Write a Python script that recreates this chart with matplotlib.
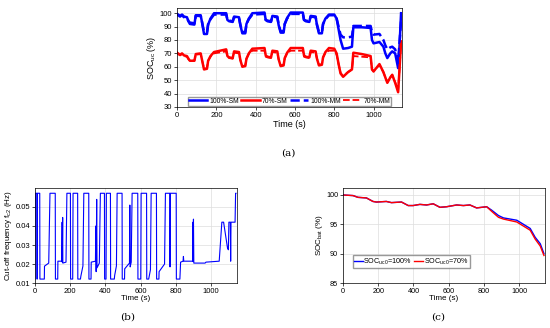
import numpy as np
import matplotlib.pyplot as plt

plt.rcParams['font.family'] = ['Liberation Sans', 'DejaVu Sans']
plt.rcParams['mathtext.default'] = 'regular'

# ---- panel (a): SOC of ultracapacitor ----
t_a = [0, 15, 25, 35, 50, 58, 65, 88, 95, 120, 127, 137, 152, 158, 170, 188,
       250, 256, 265, 283, 290, 315, 322, 332, 347, 353, 365, 383,
       445, 451, 460, 478, 485, 510, 517, 527, 542, 548, 560, 578,
       640, 646, 655, 673, 680, 705, 712, 722, 737, 743, 755, 773,
       800, 812, 822, 832, 845, 870, 890, 897, 940, 985, 992, 1000,
       1030, 1050, 1060, 1070, 1085, 1095, 1110, 1125, 1132, 1140]
soc100_sm = [99.5, 98, 99, 97.5, 97, 94, 92, 91.5, 98.5, 98.5, 93, 84.5, 84.5, 91.5, 96, 100,
             100, 95, 94, 93.5, 97.5, 97, 91, 85, 85, 92, 96, 100,
             100.5, 95, 94, 93.5, 98, 97.5, 91, 85.5, 85.5, 92, 96.5, 100.5,
             100.5, 95, 94, 93.5, 98, 97.5, 91, 85, 85, 92, 96, 99,
             99, 96, 88, 80, 73.5, 74, 75, 89.5, 89.5, 89, 80, 77.5,
             78.5, 75, 70, 66.5, 70, 71.5, 70, 59, 75, 100]
soc70_sm = [70.5, 69, 70, 68.5, 68, 66, 64.5, 64.5, 69.5, 70, 65, 58, 58.5, 64.5, 68, 71,
            73, 68, 67, 66.5, 71.5, 71, 65, 60, 60.5, 66, 70, 73.5,
            74, 68.5, 67.5, 67, 72, 71.5, 65.5, 60.5, 61, 66.5, 70.5, 74,
            74, 68.5, 67.5, 67, 72, 71.5, 66, 61, 61.5, 67, 71, 74,
            73.5, 70, 62, 55, 52.5, 56, 58, 70.5, 69.5, 68, 58, 56.5,
            62, 56, 52, 48, 52, 54, 48, 41, 58, 79]
soc100_mm = [99, 97.5, 98.5, 97, 96.5, 94, 93, 92.5, 98, 98, 93.5, 86, 86, 92, 95.5, 99,
             99, 95, 94.5, 94, 97, 96.5, 91.5, 86, 86, 92, 95.5, 99,
             99.5, 95, 94.5, 94, 97.5, 97, 91.5, 86.5, 86.5, 92, 96, 99.5,
             99.5, 95, 94.5, 94, 97.5, 97, 91.5, 86, 86, 92, 95.5, 98.5,
             98.5, 96, 90, 84, 82, 82, 82.5, 90.5, 90.5, 90.5, 86, 84,
             84.5, 80, 76, 73, 74.5, 75, 73, 63, 78, 94]
soc70_mm = [70, 68.5, 69.5, 68, 67.5, 65.5, 64.5, 64.5, 69, 69.5, 65, 58.5, 59, 64.5, 67.5, 70,
            71.5, 67.5, 66.5, 66, 70.5, 70, 65, 60.5, 61, 66, 69.5, 72,
            72, 67.5, 67, 66.5, 71, 70.5, 65.5, 61, 61.5, 66.5, 70, 72,
            72, 67.5, 67, 66.5, 71, 70.5, 66, 61.5, 62, 67, 70.5, 72,
            72, 69, 62, 55.5, 53, 56, 58, 68, 67.5, 67, 58, 56.5,
            61.5, 56, 52, 48.5, 52, 54, 48.5, 42, 58, 78]

# ---- panel (b): cut-off frequency, (time, value) pairs ----
fc2_points = [
    (0, 0.0121), (2, 0.0572), (11, 0.0572), (11.5, 0.0121), (13, 0.0121), (13.5, 0.0572),
    (27, 0.0572), (28, 0.0121), (53, 0.0121), (54, 0.0189), (78, 0.0205), (85, 0.0572),
    (115, 0.0572), (116, 0.0121), (129, 0.0121), (130, 0.0215), (153, 0.0215), (154, 0.042),
    (155, 0.021), (157, 0.0445), (158, 0.0205), (176, 0.021), (181, 0.0572), (201, 0.0572),
    (202, 0.0121), (214, 0.0121), (216, 0.0572), (242, 0.0572), (243, 0.0121), (258, 0.0121),
    (260, 0.0135), (272, 0.019), (277, 0.0572), (305, 0.0572), (306, 0.0121), (318, 0.0121),
    (319, 0.021), (343, 0.0215), (345, 0.040), (347, 0.016), (350, 0.054), (352, 0.018),
    (365, 0.0205), (371, 0.0572), (394, 0.0572), (395, 0.0121), (403, 0.0121), (405, 0.0572),
    (428, 0.0572), (429, 0.0121), (450, 0.0121), (452, 0.014), (462, 0.019), (466, 0.0572),
    (494, 0.0572), (495, 0.0121), (508, 0.0121), (509, 0.0175), (536, 0.0205), (538, 0.051),
    (540, 0.0185), (546, 0.021), (551, 0.0572), (583, 0.0572), (584, 0.0121), (600, 0.0121),
    (602, 0.0572), (633, 0.0572), (634, 0.0121), (645, 0.0121), (655, 0.017), (659, 0.0572),
    (689, 0.0572), (690, 0.0121), (703, 0.0121), (704, 0.016), (735, 0.020), (740, 0.0572),
    (765, 0.0572), (766, 0.0185), (768, 0.0572), (801, 0.0572), (802, 0.0121), (822, 0.0121),
    (826, 0.021), (840, 0.0215), (842, 0.024), (844, 0.0215), (895, 0.0215), (896, 0.042),
    (897, 0.0215), (899, 0.0436), (901, 0.0205), (965, 0.0205), (970, 0.021), (1045, 0.0215),
    (1060, 0.042), (1070, 0.042), (1092, 0.0285), (1097, 0.0275), (1100, 0.042), (1108, 0.042),
    (1110, 0.0215), (1112, 0.042), (1135, 0.042), (1138, 0.0572), (1140, 0.0572),
]
t_b = [p[0] for p in fc2_points]
fc2 = [p[1] for p in fc2_points]

# ---- panel (c): SOC of battery ----
t_c = [0, 57, 85, 133, 170, 190, 246, 275, 332, 370, 398, 436, 474, 512, 550, 588,
       645, 683, 720, 758, 787, 815, 844, 882, 910, 986, 1024, 1062, 1090, 1119, 1140]
socb_100 = [100, 99.9, 99.6, 99.5, 98.9, 98.8, 98.9, 98.7, 98.8, 98.2, 98.2, 98.4, 98.3, 98.5, 97.9, 98.0,
            98.3, 98.2, 98.3, 97.8, 97.9, 98.0, 97.4, 96.5, 96.1, 95.7, 95.0, 94.3, 92.8, 91.7, 90.0]
socb_70 = [100, 99.9, 99.6, 99.5, 98.9, 98.8, 98.9, 98.7, 98.8, 98.2, 98.2, 98.4, 98.3, 98.5, 97.9, 98.0,
           98.3, 98.2, 98.3, 97.8, 97.9, 98.0, 97.2, 96.2, 95.9, 95.4, 94.7, 94.0, 92.5, 91.3, 89.7]

fig = plt.figure(figsize=(5.5, 3.28), dpi=100)

def style(ax, fs):
    ax.grid(True, color='#dddddd', linewidth=0.5)
    ax.tick_params(labelsize=fs, length=2, width=0.5, pad=1.5)
    for s in ax.spines.values():
        s.set_linewidth(0.5)

axa = fig.add_axes([0.322, 0.674, 0.409, 0.302])
axa.plot(t_a, soc100_sm, 'b-', lw=1.8, label='100%-SM')
axa.plot(t_a, soc70_sm, 'r-', lw=1.8, label='70%-SM')
axa.plot(t_a, soc100_mm, 'b--', lw=1.8, label='100%-MM')
axa.plot(t_a, soc70_mm, 'r--', lw=1.3, label='70%-MM')
axa.set_xlim(0, 1145)
axa.set_ylim(30, 104)
axa.set_xticks([0, 200, 400, 600, 800, 1000])
axa.set_yticks([30, 40, 50, 60, 70, 80, 90, 100])
axa.set_xlabel('Time (s)', fontsize=6.5, labelpad=1)
axa.set_ylabel('SOC$_{uc}$ (%)', fontsize=6.5, labelpad=1)
style(axa, 5.5)
axa.legend(loc='lower center', ncol=4, fontsize=4.9, frameon=True, fancybox=False,
           edgecolor='gray', borderpad=0.15, handlelength=2.7, columnspacing=0.4,
           handletextpad=0.25, borderaxespad=0.2)

axb = fig.add_axes([0.0636, 0.137, 0.367, 0.29])
axb.plot(t_b, fc2, 'b-', lw=0.8)
axb.set_xlim(0, 1145)
axb.set_ylim(0.01, 0.06)
axb.set_xticks([0, 200, 400, 600, 800, 1000])
axb.set_yticks([0.01, 0.02, 0.03, 0.04, 0.05])
axb.set_xlabel('Time (s)', fontsize=5.8, labelpad=0)
axb.set_ylabel('Cut-off frequency f$_{c2}$ (Hz)', fontsize=5.8, labelpad=1)
style(axb, 5.5)

axc = fig.add_axes([0.6236, 0.137, 0.367, 0.29])
axc.plot(t_c, socb_100, 'b-', lw=1.0, label='SOC$_{uc0}$=100%')
axc.plot(t_c, socb_70, 'r-', lw=1.0, label='SOC$_{uc0}$=70%')
axc.set_xlim(0, 1145)
axc.set_ylim(85, 101.2)
axc.set_xticks([0, 200, 400, 600, 800, 1000])
axc.set_yticks([85, 90, 95, 100])
axc.set_xlabel('Time (s)', fontsize=5.8, labelpad=0)
axc.set_ylabel('SOC$_{bat}$ (%)', fontsize=5.8, labelpad=1)
style(axc, 5.2)
axc.legend(loc='lower left', bbox_to_anchor=(0.03, 0.12), ncol=2, fontsize=5.2,
           frameon=True, fancybox=False, edgecolor='gray', borderpad=0.2,
           handlelength=1.2, columnspacing=0.3, handletextpad=0.1)

fig.text(0.5236, 0.5335, '(a)', fontsize=7.5, family='serif', ha='center', va='center')
fig.text(0.2327, 0.0335, '(b)', fontsize=7.5, family='serif', ha='center', va='center')
fig.text(0.796, 0.0335, '(c)', fontsize=7.5, family='serif', ha='center', va='center')

fig.savefig('out.png', dpi=100)
